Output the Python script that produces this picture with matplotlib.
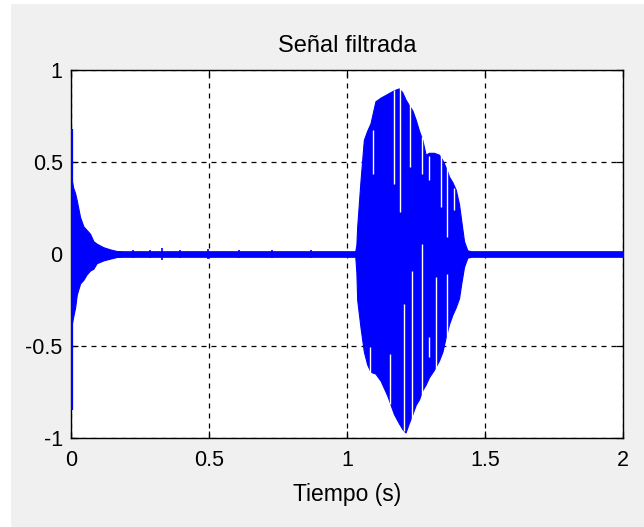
import numpy as np
import matplotlib
matplotlib.use('Agg')
import matplotlib.pyplot as plt
from matplotlib.patches import Rectangle

plt.rcParams['font.family'] = ['Liberation Sans', 'DejaVu Sans']

# --- envelope of the filtered signal ---
env_t = [0.003, 0.008, 0.015, 0.021, 0.033, 0.045, 0.057, 0.069, 0.081, 0.093,
         0.117, 0.142, 0.166, 0.19, 1.030, 1.034, 1.037, 1.049, 1.061, 1.073,
         1.085, 1.103, 1.122, 1.146, 1.170, 1.188, 1.200, 1.212, 1.224, 1.237,
         1.249, 1.261, 1.273, 1.285, 1.297, 1.315, 1.333, 1.346, 1.358, 1.370,
         1.382, 1.394, 1.406, 1.414, 1.424, 1.436, 1.45, 2.0]
env_hi = [0.40, 0.36, 0.33, 0.29, 0.20, 0.15, 0.13, 0.11, 0.07, 0.056,
          0.037, 0.025, 0.016, 0.015, 0.015, 0.05, 0.15, 0.40, 0.62, 0.67,
          0.71, 0.83, 0.85, 0.87, 0.89, 0.90, 0.88, 0.84, 0.81, 0.78,
          0.73, 0.67, 0.62, 0.54, 0.55, 0.55, 0.54, 0.51, 0.47, 0.42,
          0.39, 0.35, 0.27, 0.18, 0.07, 0.02, 0.015, 0.015]
env_lo = [-0.38, -0.34, -0.29, -0.22, -0.16, -0.14, -0.11, -0.09, -0.08, -0.05,
          -0.035, -0.025, -0.016, -0.015, -0.015, -0.10, -0.25, -0.40, -0.53, -0.60,
          -0.64, -0.65, -0.69, -0.77, -0.87, -0.92, -0.95, -0.97, -0.92, -0.87,
          -0.82, -0.79, -0.74, -0.71, -0.67, -0.63, -0.58, -0.53, -0.45, -0.38,
          -0.33, -0.29, -0.24, -0.16, -0.07, -0.02, -0.015, -0.015]

# initial transient spike
spike_t = 0.003
spike_hi, spike_lo = 0.68, -0.85

# white gaps between oscillation peaks
gap_t = [1.094, 1.170, 1.192, 1.230, 1.273, 1.297, 1.339, 1.361, 1.388,
         1.270, 1.237, 1.206, 1.155, 1.083, 1.321, 1.364, 1.297]
gap_hi = [0.673, 0.89, 0.90, 0.818, 0.637, 0.53, 0.54, 0.49, 0.36,
          0.055, -0.09, -0.27, -0.544, -0.508, -0.126, -0.108, -0.453]
gap_lo = [0.437, 0.382, 0.228, 0.473, 0.437, 0.40, 0.255, 0.092, 0.237,
          -0.817, -0.962, -0.962, -0.817, -0.653, -0.635, -0.508, -0.562]

# small blips on the quiet baseline
blip_t = [0.226, 0.287, 0.329, 0.396, 0.498, 0.607, 0.728, 0.868]
blip_hi = [0.022, 0.022, 0.030, 0.022, 0.025, 0.022, 0.022, 0.022]
blip_lo = [-0.022, -0.022, -0.032, -0.022, -0.025, -0.022, -0.022, -0.022]

fig = plt.figure(figsize=(6.44, 5.27), dpi=100, facecolor='#f0f0f0')
# white window border at the left/top of the screenshot
fig.patches.append(Rectangle((0, 0), 11/644, 1, transform=fig.transFigure,
                             facecolor='white', edgecolor='none'))
fig.patches.append(Rectangle((0, 1 - 4/527), 1, 4/527, transform=fig.transFigure,
                             facecolor='white', edgecolor='none'))

ax = fig.add_axes([71/644, 1 - 438/527, (623 - 71)/644, (438 - 70)/527])

ax.fill_between(env_t, env_lo, env_hi, color='blue', lw=0.8, edgecolor='blue', zorder=3)
ax.vlines(spike_t, spike_lo, spike_hi, color='blue', lw=1.6, zorder=3)
ax.vlines(blip_t, blip_lo, blip_hi, color='blue', lw=1.2, zorder=3)
ax.vlines(gap_t, gap_lo, gap_hi, color='white', lw=1.0, zorder=4)

ax.set_xlim(0, 2)
ax.set_ylim(-1, 1)
ax.set_xticks([0, 0.5, 1, 1.5, 2])
ax.set_xticklabels(['0', '0.5', '1', '1.5', '2'])
ax.set_yticks([-1, -0.5, 0, 0.5, 1])
ax.set_yticklabels(['-1', '-0.5', '0', '0.5', '1'])
ax.grid(True, color='black', linestyle=(0, (4, 4)), linewidth=0.9)
ax.set_axisbelow(True)
ax.tick_params(direction='in', length=5, top=True, right=True, labelsize=15.5,
               width=0.9)
ax.tick_params(axis='x', pad=9)
ax.tick_params(axis='y', pad=6)
for s in ax.spines.values():
    s.set_linewidth(1.0)

ax.set_title('Señal filtrada', fontsize=17, pad=13)
ax.set_xlabel('Tiempo (s)', fontsize=16.5, labelpad=8)

fig.savefig('out.png', dpi=100, facecolor=fig.get_facecolor())
